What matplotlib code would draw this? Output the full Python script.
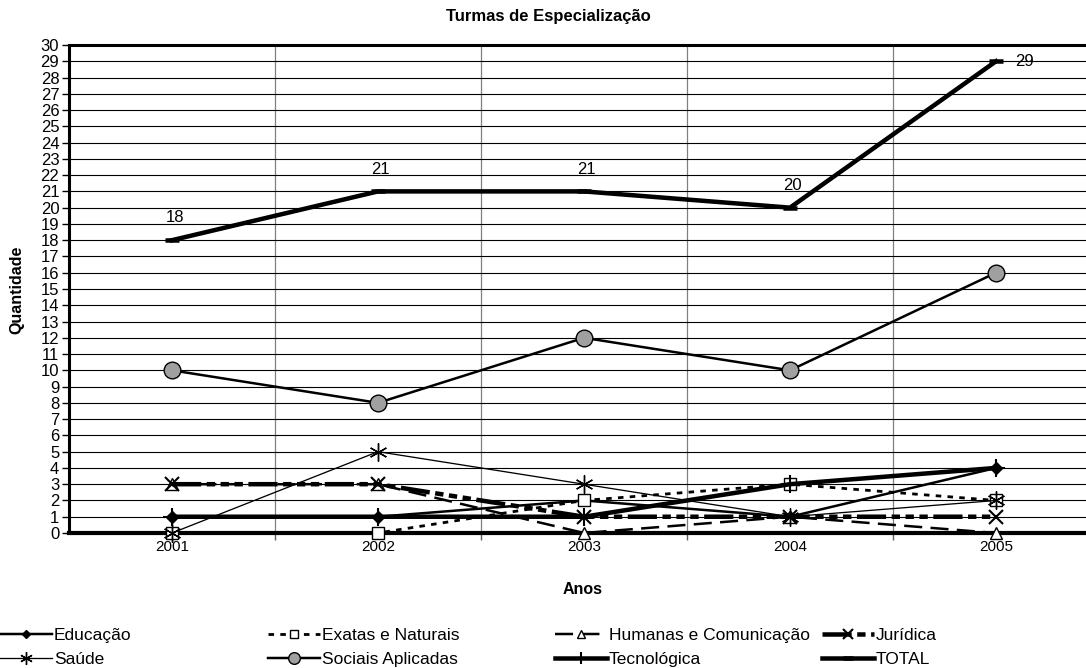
import matplotlib
matplotlib.use("Agg")
import matplotlib.pyplot as plt
from matplotlib.ticker import MultipleLocator, FixedLocator

plt.rcParams['font.family'] = ['Liberation Sans', 'DejaVu Sans']
plt.rcParams['lines.scale_dashes'] = False

years = ['2001', '2002', '2003', '2004', '2005']
educacao = [1, 1, 2, 1, 4]
exatas = [0, 0, 2, 3, 2]
humanas = [3, 3, 0, 1, 0]
juridica = [3, 3, 1, 1, 1]
saude = [0, 5, 3, 1, 2]
sociais = [10, 8, 12, 10, 16]
tecnologica = [1, 1, 1, 3, 4]
total = [18, 21, 21, 20, 29]

W, H = 1086, 668
fig = plt.figure(figsize=(W / 100, H / 100), dpi=100)
ax = fig.add_axes([69 / W, (H - 533) / H, (1099 - 69) / W, (533 - 45) / H])
x = list(range(len(years)))

px = 0.72  # points per pixel at 100 dpi
common = dict(color='black', zorder=5, clip_on=False)

l_edu, = ax.plot(x, educacao, lw=2.5 * px, marker='D', ms=6.5,
                 mfc='black', mec='black', label='Educação', **common)
l_exa, = ax.plot(x, exatas, lw=2.8 * px, dashes=(4, 4.5), marker='s',
                 ms=9, mfc='white', mec='black', mew=1.0, label='Exatas e Naturais', **common)
l_hum, = ax.plot(x, humanas, lw=2.5 * px, dashes=(13, 6), marker='^',
                 ms=9, mfc='white', mec='black', mew=1.0, label='Humanas e Comunicação', **common)
l_jur, = ax.plot(x, juridica, lw=4.5 * px, dashes=(21, 4, 6, 4, 6, 4, 6, 4),
                 marker='x', ms=10, mec='black', mew=1.5, label='Jurídica', **common)
l_sau, = ax.plot(x, saude, lw=1.3 * px, marker=(6, 2, 0), ms=13,
                 mec='black', mew=1.0, label='Saúde', **common)
l_soc, = ax.plot(x, sociais, lw=2.5 * px, marker='o', ms=12,
                 mfc='#a0a0a0', mec='black', mew=1.0, label='Sociais Aplicadas', **common)
l_tec, = ax.plot(x, tecnologica, lw=4.5 * px, marker='+', ms=13,
                 mec='black', mew=1.5, label='Tecnológica', **common)
l_tot, = ax.plot(x, total, lw=4.5 * px, marker='_', ms=10,
                 mec='black', mew=4.5 * px, label='TOTAL', **common)

for i, v in enumerate(total):
    if i == len(total) - 1:
        ax.annotate(str(v), (i, v), xytext=(14, 0), textcoords='offset points',
                    ha='left', va='center', fontsize=12)
    else:
        ax.annotate(str(v), (i, v), xytext=(2, 16), textcoords='offset points',
                    ha='center', va='center', fontsize=12)

ax.set_xlim(-0.5, len(years) - 0.5)
ax.set_ylim(0, 30)
ax.yaxis.set_major_locator(MultipleLocator(1))
ax.set_xticks(x)
ax.set_xticklabels(years, fontsize=11)
ax.xaxis.set_minor_locator(FixedLocator([0.5, 1.5, 2.5, 3.5]))
ax.tick_params(axis='x', which='major', length=0, pad=5)
ax.tick_params(axis='x', which='minor', length=5, width=1, direction='out', color='#606060')
ax.tick_params(axis='y', which='major', length=5, width=1, direction='out', labelsize=12, pad=2)

ax.grid(axis='y', which='major', color='black', lw=0.8)
ax.grid(axis='x', which='minor', color='#808080', lw=0.9)
ax.set_axisbelow(True)

ax.spines['left'].set_linewidth(2.2)
ax.spines['top'].set_linewidth(2.2)
ax.spines['bottom'].set_linewidth(3.0)
ax.spines['right'].set_linewidth(2.2)

fig.text(548 / W, 1 - 17 / H, 'Turmas de Especialização', ha='center', va='center',
         fontsize=12, fontweight='bold')
fig.text(17 / W, 1 - 290 / H, 'Quantidade', ha='center', va='center', rotation=90,
         fontsize=11.5, fontweight='bold')
fig.text(583 / W, 1 - 590 / H, 'Anos', ha='center', va='center',
         fontsize=11.5, fontweight='bold')

columns = [(l_edu, l_sau), (l_exa, l_soc), (l_hum, l_tec), (l_jur, l_tot)]
col_x = [0, 268, 555, 822]
for cx, handles in zip(col_x, columns):
    fig.legend(handles=list(handles), loc='upper left',
               bbox_to_anchor=(cx / W, 1 - 628 / H), frameon=False,
               fontsize=12.5, handlelength=3.0, handletextpad=0.1,
               borderpad=0, borderaxespad=0, labelspacing=0.5, markerscale=0.7)

fig.savefig('out.png', dpi=100)
